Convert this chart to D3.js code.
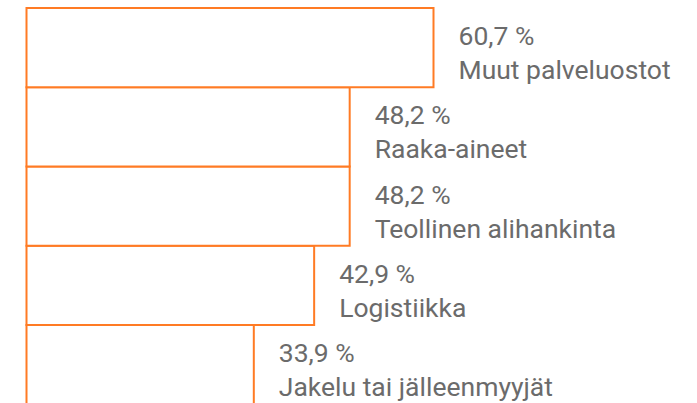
<!DOCTYPE html>
<html>
<head>
<meta charset="utf-8">
<script src="https://cdn.jsdelivr.net/npm/d3@7"></script>
<style>
  html, body { margin: 0; padding: 0; background: #fff; }
  svg { display: block; }
</style>
</head>
<body>
<svg id="chart" width="697" height="403"></svg>
<script>
const categories = ["Muut palveluostot", "Raaka-aineet", "Teollinen alihankinta", "Logistiikka", "Jakelu tai jälleenmyyjät"];
const values = [60.7, 48.2, 48.2, 42.9, 33.9];
const valueLabels = ["60,7 %", "48,2 %", "48,2 %", "42,9 %", "33,9 %"];

const svg = d3.select("#chart");
const x0 = 26.5;
const x = d3.scaleLinear().domain([0, 60.7]).range([x0, 433.5]);
const y = d3.scaleBand().domain(categories).range([8, 404.25]).padding(0);

const data = categories.map((c, i) => ({ c, v: values[i], t: valueLabels[i] }));

svg.append("g").selectAll("rect")
  .data(data.slice().reverse())
  .join("rect")
  .attr("x", x0)
  .attr("y", d => y(d.c))
  .attr("width", d => x(d.v) - x0)
  .attr("height", y.bandwidth())
  .attr("fill", "#fff")
  .attr("stroke", "#ff7b24")
  .attr("stroke-width", 2);

const lab = svg.append("g")
  .attr("font-family", "Roboto, 'Noto Sans', sans-serif")
  .attr("font-size", 26.5)
  .attr("fill", "#6b6b6b");

lab.selectAll("text.val")
  .data(data)
  .join("text")
  .attr("class", "val")
  .attr("x", d => x(d.v) + 25)
  .attr("y", d => y(d.c) + y.bandwidth() / 2 - 2.5)
  .text(d => d.t);

lab.selectAll("text.cat")
  .data(data)
  .join("text")
  .attr("class", "cat")
  .attr("x", d => x(d.v) + 25)
  .attr("y", d => y(d.c) + y.bandwidth() / 2 + 31.5)
  .text(d => d.c);
</script>
</body>
</html>
